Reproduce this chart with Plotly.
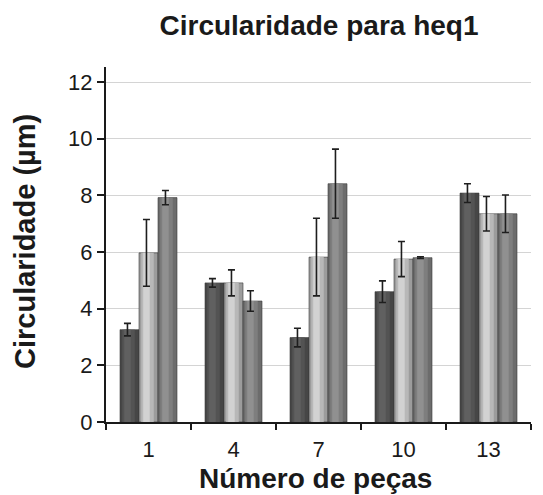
import plotly.graph_objects as go

categories = ["1", "4", "7", "10", "13"]
serie1 = [3.26, 4.91, 2.98, 4.60, 8.08]
erro1 = [0.22, 0.15, 0.33, 0.38, 0.33]
serie2 = [5.97, 4.91, 5.82, 5.75, 7.35]
erro2 = [1.18, 0.46, 1.37, 0.62, 0.61]
serie3 = [7.92, 4.27, 8.41, 5.80, 7.35]
erro3 = [0.25, 0.36, 1.22, 0.03, 0.66]
y_ticks = [0, 2, 4, 6, 8, 10, 12]

series = [
    ("Série 1", serie1, erro1, ["#464646", "#535353", "#606060"]),
    ("Série 2", serie2, erro2, ["#9c9c9c", "#b8b8b8", "#d2d2d2"]),
    ("Série 3", serie3, erro3, ["#6c6c6c", "#7e7e7e", "#909090"]),
]

bar_w = 0.2235
group_start = -1.5 * bar_w
layer_frac = [1.0, 0.66, 0.34]

FONT = "Liberation Sans, Arial, sans-serif"
fig = go.Figure()
for i, (name, vals, errs, cols) in enumerate(series):
    left = group_start + i * bar_w
    for j, frac in enumerate(layer_frac):
        w = bar_w * frac
        off = left + (bar_w - w) / 2 - 0.012 * j
        last = j == len(layer_frac) - 1
        fig.add_trace(go.Bar(
            x=categories, y=vals, name=name,
            width=w, offset=off,
            marker=dict(color=cols[j],
                        line=dict(color="#3a3a3a" if j == 0 else cols[j], width=0.6 if j == 0 else 0)),
            error_y=dict(type="data", array=errs, visible=last,
                         color="#1e1e1e", thickness=1.6, width=3.5),
            showlegend=False, hoverinfo="skip" if not last else None,
        ))

pw = 543 - 106 - 12
ph = 495 - 67 - 73

fig.update_layout(
    width=543, height=495,
    barmode="overlay",
    paper_bgcolor="white", plot_bgcolor="white",
    margin=dict(l=106, r=12, t=67, b=73),
    font=dict(family=FONT, color="#1a1a1a"),
    title=dict(text="<b>Circularidade para heq1</b>", font=dict(size=28, family=FONT, color="#1a1a1a"),
               x=319 / 543, xanchor="center", xref="container",
               y=1 - 25 / 495, yanchor="middle", yref="container"),
    annotations=[
        dict(text="<b>Número de peças</b>", x=(315 - 106) / pw, y=(422 - 478) / ph,
             xref="paper", yref="paper", showarrow=False,
             xanchor="center", yanchor="middle", font=dict(size=28, family=FONT, color="#1a1a1a")),
        dict(text="<b>Circularidade (µm)</b>", x=(25 - 106) / pw, y=(422 - 242) / ph,
             xref="paper", yref="paper", showarrow=False, textangle=-90,
             xanchor="center", yanchor="middle", font=dict(size=29, family=FONT, color="#1a1a1a")),
    ],
)

fig.update_xaxes(
    type="category", range=[-0.5, 4.5],
    showline=True, linecolor="#1a1a1a", linewidth=2,
    ticks="outside", tickson="boundaries", ticklen=6, tickwidth=2, tickcolor="#1a1a1a",
    ticklabelstandoff=7,
    tickfont=dict(size=22, family=FONT, color="#1a1a1a"),
    showgrid=False, zeroline=False,
)
fig.update_yaxes(
    range=[0, 12.53], tickvals=y_ticks,
    showline=True, linecolor="#1a1a1a", linewidth=2,
    ticks="outside", ticklen=7, tickwidth=1.5, tickcolor="#1a1a1a",
    tickfont=dict(size=22, family=FONT, color="#1a1a1a"),
    showgrid=True, gridcolor="#d4d4d4", gridwidth=1, zeroline=False,
)

fig.write_html("out.html")
